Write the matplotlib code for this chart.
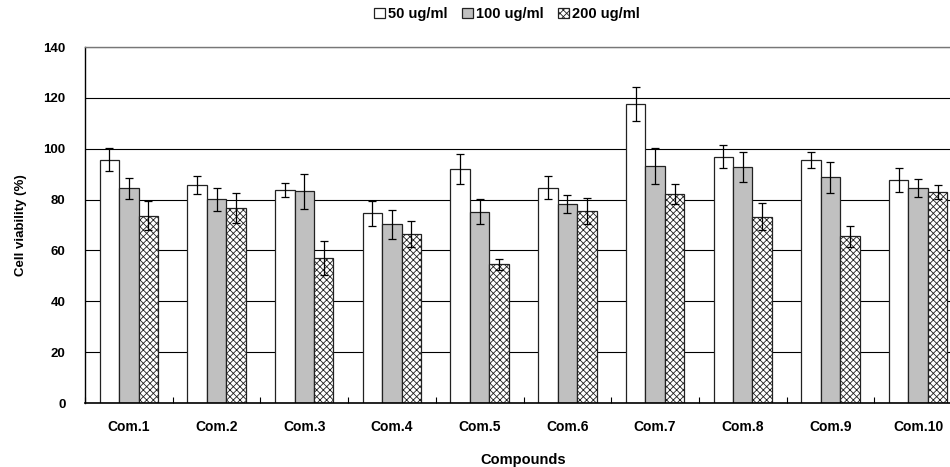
import matplotlib
matplotlib.use("Agg")
import matplotlib.pyplot as plt
import numpy as np

plt.rcParams['font.family'] = ['Liberation Sans', 'DejaVu Sans']
plt.rcParams['font.weight'] = 'bold'
plt.rcParams['hatch.linewidth'] = 0.6
plt.rcParams['hatch.color'] = '#333333'

categories = ["Com.1", "Com.2", "Com.3", "Com.4", "Com.5",
              "Com.6", "Com.7", "Com.8", "Com.9", "Com.10"]
series_names = ["50 ug/ml", "100 ug/ml", "200 ug/ml"]

v50 = [95.6, 85.7, 83.8, 74.6, 92.0, 84.7, 117.5, 96.9, 95.6, 87.8]
e50 = [4.5, 3.5, 2.8, 5.0, 5.9, 4.4, 6.6, 4.4, 3.0, 4.8]
v100 = [84.4, 80.1, 83.3, 70.3, 75.3, 78.3, 93.3, 92.7, 88.7, 84.7]
e100 = [4.2, 4.4, 6.9, 5.7, 4.9, 3.5, 7.0, 5.9, 6.0, 3.5]
v200 = [73.6, 76.6, 57.1, 66.5, 54.6, 75.5, 82.2, 73.3, 65.5, 83.0]
e200 = [5.7, 6.0, 6.6, 5.0, 2.2, 5.2, 4.0, 5.3, 4.0, 2.9]

yticks = [0, 20, 40, 60, 80, 100, 120, 140]

fig = plt.figure(figsize=(9.5, 4.67), dpi=100)
ax = fig.add_axes([85/950, 64/467, 877/950, 356/467])

x = np.arange(len(categories))
w = 0.222
styles = [dict(color='white', hatch=None),
          dict(color='#C0C0C0', hatch=None),
          dict(color='white', hatch='xxxxx')]
vals = [v50, v100, v200]
errs = [e50, e100, e200]
handles = []
for i, (v, e, st) in enumerate(zip(vals, errs, styles)):
    b = ax.bar(x + (i - 1) * w, v, w, color=st['color'], edgecolor='#222222',
               linewidth=0.9, hatch=st['hatch'], zorder=2, label=series_names[i])
    ax.errorbar(x + (i - 1) * w, v, yerr=e, fmt='none', ecolor='black',
                elinewidth=0.9, capsize=3, capthick=0.9, zorder=3)
    handles.append(b)

ax.set_xlim(-0.5, len(categories) - 0.5)
ax.set_ylim(0, 140)
ax.set_yticks(yticks)
ax.set_yticklabels([str(t) for t in yticks], fontsize=9.5, fontweight='bold')
ax.yaxis.grid(True, color='black', linewidth=0.8, zorder=0)
ax.set_axisbelow(True)
ax.tick_params(axis='y', length=0, pad=14)

ax.set_xticks(x)
ax.set_xticklabels(categories, fontsize=10, fontweight='bold')
ax.tick_params(axis='x', which='major', length=0, pad=12)
ax.set_xticks(np.arange(len(categories) + 1) - 0.5, minor=True)
ax.tick_params(axis='x', which='minor', direction='in', length=4, width=0.8)

ax.spines['top'].set_color('#777777')
ax.spines['top'].set_linewidth(1.0)
ax.spines['left'].set_linewidth(1.0)
ax.spines['bottom'].set_linewidth(1.2)
ax.spines['right'].set_visible(False)

ax.set_ylabel("Cell viability (%)", fontsize=9.5, fontweight='bold', labelpad=12)
ax.set_xlabel("Compounds", fontsize=10.5, fontweight='bold', labelpad=14)

fig.legend(handles=handles, labels=series_names, loc='center',
           bbox_to_anchor=(507/950, 1 - 14/467), ncol=3, frameon=False,
           handlelength=0.75, handleheight=0.75,
           handletextpad=0.2, columnspacing=1.0, borderpad=0,
           prop={'weight': 'bold', 'size': 10.5})

fig.savefig("out.png", dpi=100)
